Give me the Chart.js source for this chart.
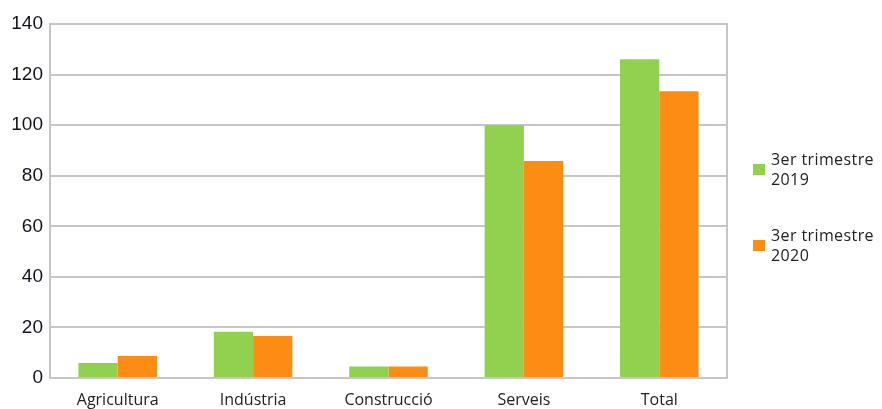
<!DOCTYPE html>
<html lang="ca">
<head>
    <meta charset="UTF-8">
    <title>Ocupats per sector</title>
    <style>
        body {
            margin: 0;
            padding: 0;
            background: #fff;
            font-family: 'Open Sans', sans-serif;
        }
        .wrap {
            position: relative;
            width: 882px;
            height: 409px;
        }
        .legend {
            position: absolute;
            left: 753px;
            top: 149px;
            font-size: 16px;
            letter-spacing: 0.4px;
            line-height: 20px;
            color: #222;
        }
        .legend-item {
            display: flex;
            align-items: center;
            margin-bottom: 36px;
        }
        .legend-box {
            width: 12px;
            height: 11px;
            margin-right: 6px;
        }
    </style>
</head>
<body>
    <div class="wrap">
        <canvas id="myChart" width="882" height="409"></canvas>
        <div class="legend" id="legend"></div>
    </div>

    <script src="https://cdn.jsdelivr.net/npm/chart.js"></script>
    <script>
        // Dades del gràfic
        const categories = ['Agricultura', 'Indústria', 'Construcció', 'Serveis', 'Total'];
        const seriesNames = [['3er trimestre', '2019'], ['3er trimestre', '2020']];
        const valors2019 = [5.9, 18.3, 4.5, 100, 126.1];
        const valors2020 = [8.7, 16.6, 4.5, 85.8, 113.4];
        const colors = ['#92d050', '#fd8c15'];

        // Llegenda en HTML (text en dues línies)
        const legend = document.getElementById('legend');
        seriesNames.forEach((nom, i) => {
            const item = document.createElement('div');
            item.className = 'legend-item';
            item.innerHTML = '<span class="legend-box" style="background:' + colors[i] + '"></span>' +
                '<span>' + nom.join('<br>') + '</span>';
            legend.appendChild(item);
        });

        // Marc gris al voltant de l'àrea del gràfic
        const marc = {
            id: 'marc',
            beforeDatasetsDraw(chart) {
                const a = chart.chartArea;
                const ctx = chart.ctx;
                ctx.save();
                ctx.strokeStyle = '#c6c6c6';
                ctx.lineWidth = 2;
                ctx.strokeRect(a.left, a.top, a.right - a.left, a.bottom - a.top);
                ctx.restore();
            }
        };

        const ctx = document.getElementById('myChart').getContext('2d');
        const myChart = new Chart(ctx, {
            type: 'bar',
            data: {
                labels: categories,
                datasets: [{
                    label: seriesNames[0].join(' '),
                    data: valors2019,
                    backgroundColor: colors[0]
                }, {
                    label: seriesNames[1].join(' '),
                    data: valors2020,
                    backgroundColor: colors[1]
                }]
            },
            options: {
                responsive: false,
                animation: false,
                layout: {
                    padding: { top: 24, right: 155, left: 0, bottom: 0 }
                },
                plugins: {
                    legend: { display: false },
                    tooltip: { enabled: false }
                },
                datasets: {
                    bar: {
                        categoryPercentage: 0.58,
                        barPercentage: 1.0
                    }
                },
                scales: {
                    x: {
                        grid: { display: false },
                        border: { color: '#c6c6c6', width: 2 },
                        ticks: {
                            color: '#222',
                            font: { family: 'Open Sans', size: 16 },
                            padding: 5
                        },
                        afterFit(scale) { scale.height = 31; }
                    },
                    y: {
                        min: 0,
                        max: 140,
                        ticks: {
                            stepSize: 20,
                            color: '#141420',
                            font: { family: 'Liberation Sans', size: 19 },
                            padding: 7
                        },
                        grid: {
                            color: '#c6c6c6',
                            lineWidth: 2,
                            drawTicks: false
                        },
                        border: { color: '#c6c6c6', width: 2 },
                        afterFit(scale) { scale.width = 50; }
                    }
                }
            },
            plugins: [marc]
        });
    </script>
</body>
</html>
